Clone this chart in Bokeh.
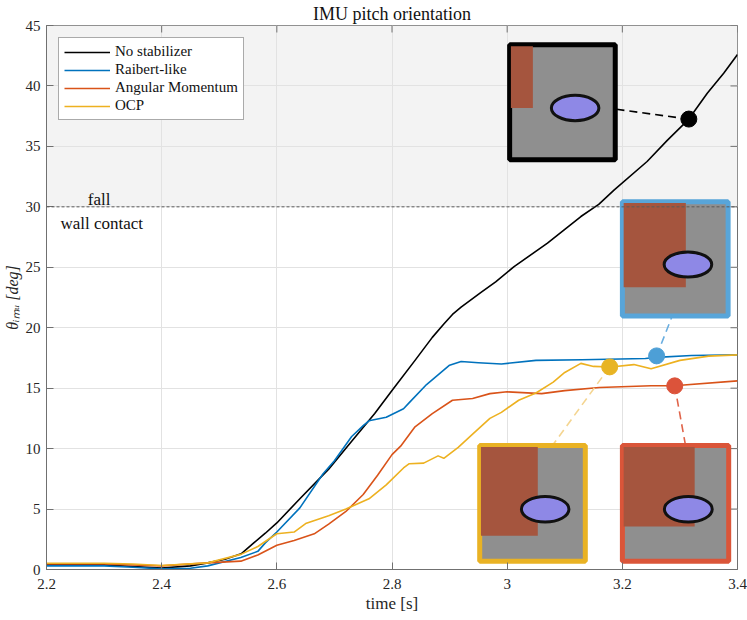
from bokeh.plotting import figure
from bokeh.models import (Range1d, Span, BoxAnnotation, Label, Legend,
                          LegendItem, FixedTicker, ColumnDataSource)
from bokeh.embed import file_html
from bokeh.resources import INLINE

# ---------------- data ----------------
black_t = [2.20, 2.25, 2.30, 2.35, 2.40, 2.45, 2.48, 2.51, 2.538, 2.56, 2.58, 2.60, 2.64,
           2.69, 2.73, 2.77, 2.80, 2.84, 2.87, 2.89, 2.905, 2.92, 2.954, 2.98, 3.012, 3.07,
           3.128, 3.159, 3.186, 3.243, 3.278, 3.3155, 3.3475, 3.376, 3.40]
black_v = [0.40, 0.40, 0.38, 0.25, 0.12, 0.30, 0.55, 0.85, 1.30, 2.20, 3.00, 3.85, 5.85,
           8.30, 10.6, 12.9, 14.8, 17.3, 19.2, 20.3, 21.1, 21.7, 22.9, 23.8, 25.05, 27.0,
           29.2, 30.2, 31.4, 33.75, 35.5, 37.26, 39.4, 41.05, 42.6]

blue_t = [2.20, 2.30, 2.35, 2.40, 2.45, 2.48, 2.5375, 2.567, 2.58, 2.60, 2.64, 2.68, 2.70,
          2.73, 2.75, 2.76, 2.79, 2.82, 2.83, 2.86, 2.90, 2.92, 2.95, 2.99, 3.05, 3.13,
          3.24, 3.26, 3.32, 3.40]
blue_v = [0.30, 0.30, 0.18, 0.05, 0.10, 0.30, 1.00, 1.50, 2.20, 3.10, 5.10, 7.90, 9.00,
          11.0, 11.9, 12.3, 12.6, 13.3, 13.8, 15.3, 16.9, 17.2, 17.1, 17.0, 17.3, 17.35,
          17.45, 17.55, 17.7, 17.75]

red_t = [2.20, 2.30, 2.40, 2.48, 2.5375, 2.567, 2.60, 2.63, 2.665, 2.69, 2.72, 2.75,
         2.775, 2.80, 2.815, 2.84, 2.87, 2.905, 2.94, 2.97, 3.00, 3.06, 3.10, 3.16, 3.25,
         3.29, 3.40]
red_v = [0.45, 0.45, 0.30, 0.55, 0.69, 1.20, 2.00, 2.40, 2.95, 3.75, 4.80, 6.20,
         7.80, 9.50, 10.2, 11.8, 12.9, 14.0, 14.15, 14.55, 14.7, 14.55, 14.8, 15.05, 15.2,
         15.2, 15.6]

yellow_t = [2.20, 2.30, 2.35, 2.40, 2.48, 2.5375, 2.567, 2.60, 2.63, 2.65, 2.69, 2.72, 2.76,
            2.79, 2.82, 2.83, 2.855, 2.88, 2.89, 2.915, 2.94, 2.97, 2.99, 3.02, 3.05, 3.08,
            3.10, 3.128, 3.15, 3.18, 3.22, 3.25, 3.30, 3.35, 3.40]
yellow_v = [0.52, 0.52, 0.45, 0.33, 0.55, 1.25, 1.90, 2.96, 3.10, 3.80, 4.45, 5.00, 5.85,
            7.00, 8.40, 8.75, 8.80, 9.40, 9.20, 10.1, 11.2, 12.5, 13.0, 14.0, 14.6, 15.5,
            16.3, 17.05, 16.8, 16.75, 16.95, 16.6, 17.3, 17.65, 17.75]

series_names = ["No stabilizer", "Raibert-like", "Angular Momentum", "OCP"]

# snapshot markers on the curves
marker_t = [3.3155, 3.2595, 3.178, 3.291]
marker_v = [37.26, 17.67, 16.76, 15.19]

fall_threshold = 30
x_ticks = [2.2, 2.4, 2.6, 2.8, 3.0, 3.2, 3.4]
y_ticks = [0, 5, 10, 15, 20, 25, 30, 35, 40, 45]

# inset frames (snapshots), data coords
inset_left = [3.0043, 3.2001, 2.9523, 3.2001]
inset_right = [3.1877, 3.3837, 3.1357, 3.3847]
inset_bottom = [33.9, 20.98, 0.68, 0.68]
inset_top = [43.4, 30.42, 10.25, 10.25]
inset_wall_w = [0.22, 0.60, 0.55, 0.68]
inset_wall_h = [0.55, 0.75, 0.78, 0.70]
anchor_t = [3.1877, 3.2867, 3.0785, 3.3098]
anchor_v = [38.08, 20.98, 10.25, 10.25]

# ---------------- styles ----------------
line_colors = ["#000000", "#0072BD", "#D95319", "#EDB120"]
dot_colors = ["#000000", "#4d9fd6", "#e8b424", "#dc533a"]
frame_colors = ["#000000", "#58a5d9", "#e9b224", "#da5539"]
conn_colors = ["#000000", "#6aaee0", "#f4d591", "#e0644a"]
FONT = "Liberation Serif"
AXC = "#707070"

p = figure(width=747, height=620, x_range=Range1d(2.2, 3.4), y_range=Range1d(0, 45),
           output_backend="svg", toolbar_location=None,
           min_border_left=46, min_border_right=10, min_border_top=25, min_border_bottom=51)
p.background_fill_color = "#ffffff"
p.border_fill_color = "#ffffff"
p.outline_line_color = AXC
p.outline_line_width = 1

p.title.text = "IMU pitch orientation"
p.title.align = "center"
p.title.text_font = FONT
p.title.text_font_size = "18px"
p.title.text_font_style = "normal"
p.title.text_color = "#111111"
p.title.standoff = 3

# shaded fall region
p.add_layout(BoxAnnotation(bottom=fall_threshold, fill_color="#f3f3f3", fill_alpha=1.0,
                           line_color=None, level="image"))

for ax in (p.xaxis[0], p.yaxis[0]):
    ax.axis_line_color = AXC
    ax.major_tick_line_color = AXC
    ax.major_tick_in = 7
    ax.major_tick_out = 0
    ax.minor_tick_line_color = None
    ax.major_label_text_font = FONT
    ax.major_label_text_font_size = "15px"
    ax.major_label_text_color = "#262626"
    ax.axis_label_text_font = FONT
    ax.axis_label_text_color = "#262626"
    ax.axis_label_text_font_size = "17px"
p.xaxis.ticker = FixedTicker(ticks=x_ticks)
p.yaxis.ticker = FixedTicker(ticks=y_ticks)
p.xaxis.major_label_overrides = {3.0: "3"}
p.xaxis.major_label_standoff = 9
p.yaxis.major_label_standoff = 6
p.xaxis.axis_label = "time [s]"
p.xaxis.axis_label_text_font_style = "normal"
p.xaxis.axis_label_standoff = 2
p.yaxis.axis_label = "θᵢₘᵤ [deg]"
p.yaxis.axis_label_text_font_style = "italic"
p.yaxis.axis_label_text_font_size = "16px"
p.yaxis.axis_label_standoff = 2

p.xgrid.ticker = FixedTicker(ticks=x_ticks)
p.ygrid.ticker = FixedTicker(ticks=y_ticks)
p.grid.grid_line_color = "#e2e2e2"
p.grid.grid_line_width = 1

# inward ticks on the top and right edges of the box
tick_len_y = 7 / 12.09
tick_len_x = 7 / 575.8
p.segment(x0=x_ticks, x1=x_ticks, y0=[45] * len(x_ticks), y1=[45 - tick_len_y] * len(x_ticks),
          line_color=AXC, line_width=1)
p.segment(x0=[3.4] * len(y_ticks), x1=[3.4 - tick_len_x] * len(y_ticks), y0=y_ticks, y1=y_ticks,
          line_color=AXC, line_width=1)

# fall threshold
p.add_layout(Span(location=fall_threshold, dimension="width", line_color="#5a5a5a",
                  line_dash="3 2", line_width=1))

# curves
renderers = []
for t, v, c in zip([black_t, blue_t, red_t, yellow_t], [black_v, blue_v, red_v, yellow_v],
                   line_colors):
    renderers.append(p.line(t, v, line_color=c, line_width=1.6, line_join="round"))

# connectors
for i in range(4):
    p.line([marker_t[i], anchor_t[i]], [marker_v[i], anchor_v[i]], line_color=conn_colors[i],
           line_width=1.6, line_dash="8 5")

# insets (placeholders for the simulation snapshots)
ins = ColumnDataSource(dict(l=inset_left, r=inset_right, b=inset_bottom, t=inset_top,
                            c=frame_colors))
p.quad(left="l", right="r", bottom="b", top="t", source=ins, fill_color="#8f8f8f",
       line_color="c", line_width=5)
wl, wr, wb, wt = [], [], [], []
el_x, el_y, el_w, el_h = [], [], [], []
for i in range(4):
    w = inset_right[i] - inset_left[i]
    h = inset_top[i] - inset_bottom[i]
    pad_x, pad_y = 0.0022, 0.11
    wl.append(inset_left[i] + pad_x)
    wr.append(inset_left[i] + w * inset_wall_w[i])
    wt.append(inset_top[i] - pad_y)
    wb.append(inset_top[i] - h * inset_wall_h[i])
    el_x.append(inset_left[i] + w * 0.62)
    el_y.append(inset_bottom[i] + h * 0.45)
    el_w.append(w * 0.45)
    el_h.append(h * 0.22)
p.quad(left=wl, right=wr, bottom=wb, top=wt, fill_color="#a5553e", line_color=None)
p.ellipse(x=el_x, y=el_y, width=el_w, height=el_h, fill_color="#8e88e6",
          line_color="#111111", line_width=3)

# markers
p.scatter(marker_t, marker_v, size=16, fill_color=dot_colors, line_color=dot_colors)

# legend
legend = Legend(items=[LegendItem(label=n, renderers=[r]) for n, r in zip(series_names, renderers)],
                location="top_left", margin=12, padding=5, spacing=1,
                label_text_font=FONT, label_text_font_size="15px", label_text_color="#111111",
                glyph_width=46, glyph_height=16, label_height=16, label_standoff=5,
                border_line_color="#555555", border_line_width=1,
                background_fill_color="#ffffff", background_fill_alpha=1.0)
p.add_layout(legend)

# threshold annotations
p.add_layout(Label(x=2.2717, y=30.6, text="fall", text_align="left",
                   text_baseline="alphabetic", text_font=FONT, text_font_size="17px",
                   text_color="#111111"))
p.add_layout(Label(x=2.2243, y=28.62, text="wall contact", text_align="left",
                   text_baseline="alphabetic", text_font=FONT, text_font_size="17px",
                   text_color="#111111"))

open("out.html", "w").write(file_html(p, INLINE))
